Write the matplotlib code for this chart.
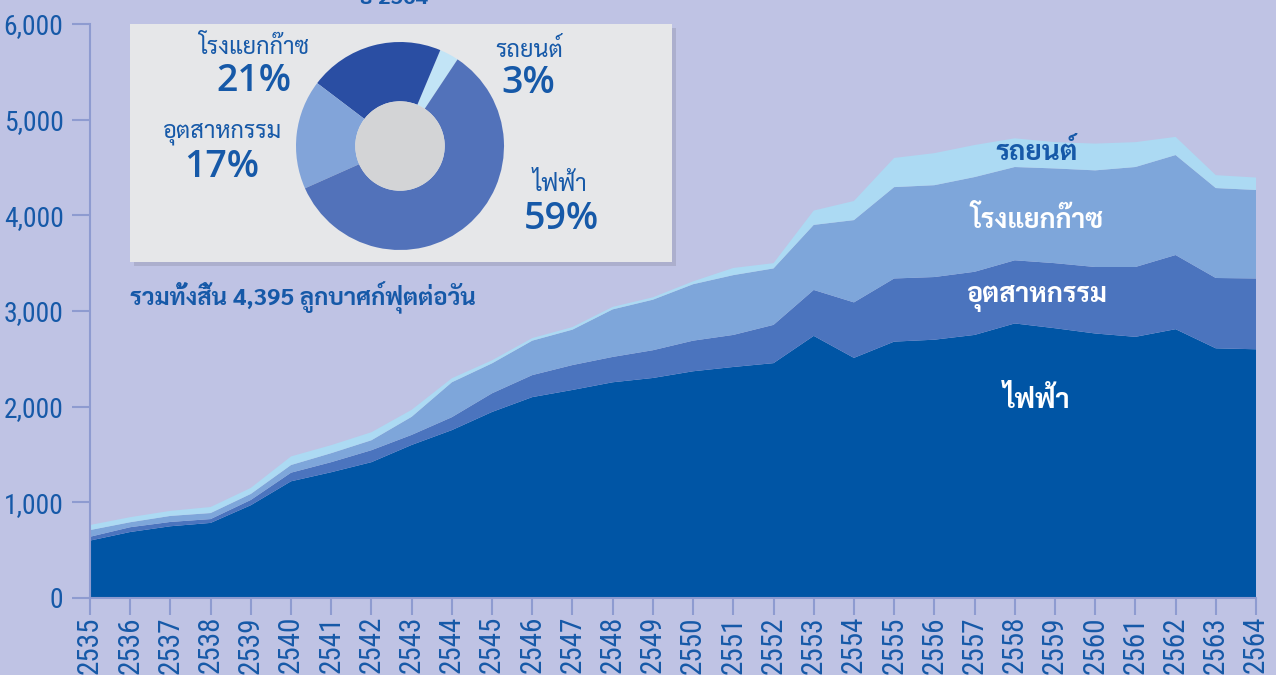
import matplotlib
matplotlib.use('Agg')
import matplotlib.pyplot as plt
from matplotlib import font_manager
from matplotlib.font_manager import FontProperties
from matplotlib.ft2font import FT2Font
from matplotlib.patches import Rectangle, Circle

# ---------------- data ----------------
years = list(range(2535, 2565))
electricity = [600, 690, 750, 785, 970, 1220, 1315, 1420, 1600, 1755,
               1945, 2100, 2175, 2255, 2300, 2370, 2415, 2455, 2740, 2510,
               2680, 2700, 2750, 2870, 2820, 2765, 2730, 2810, 2610, 2600]
industry = [40, 50, 45, 40, 55, 90, 105, 125, 105, 135,
            195, 230, 260, 265, 290, 320, 335, 400, 480, 580,
            660, 655, 660, 660, 680, 695, 730, 775, 735, 740]
gas_plant = [70, 52, 63, 63, 63, 80, 94, 104, 189, 365,
             313, 360, 370, 497, 528, 590, 625, 590, 680, 860,
             955, 960, 990, 975, 990, 1010, 1045, 1045, 940, 925]
vehicles = [53, 53, 53, 63, 63, 90, 84, 84, 73, 42,
            32, 27, 27, 26, 25, 30, 75, 55, 150, 200,
            305, 335, 335, 300, 275, 280, 260, 190, 135, 130]

series_names = ['ไฟฟ้า', 'อุตสาหกรรม', 'โรงแยกก๊าซ', 'รถยนต์']
pie_labels = ['รถยนต์', 'โรงแยกก๊าซ', 'อุตสาหกรรม', 'ไฟฟ้า']
pie_shares = [3, 21, 17, 59]
total_text = 'รวมทั้งสิ้น 4,395 ลูกบาศก์ฟุตต่อวัน'
title_text = 'ปี 2564'
yticks = [0, 1000, 2000, 3000, 4000, 5000, 6000]

# ---------------- fonts ----------------
def scan_fonts():
    thai = {}
    narrow = []
    for f in font_manager.fontManager.ttflist:
        w = f.weight if isinstance(f.weight, int) else 400
        try:
            cm = FT2Font(f.fname).get_charmap()
        except Exception:
            continue
        if 0x0E01 in cm and 0x0E32 in cm and f.style == 'normal':
            thai.setdefault(f.name, set()).add(w)
        st = str(f.stretch)
        if (('Narrow' in f.name or 'Condensed' in f.name or
             st in ('condensed', 'semi-condensed', 'extra-condensed',
                    'ultra-condensed'))
                and f.style == 'normal' and ord('0') in cm and 350 <= w <= 500):
            narrow.append(f)
    return thai, narrow

thai_map, narrow_list = scan_fonts()
pref = ['Noto Sans Thai', 'Noto Sans Thai UI', 'Sarabun', 'Noto Sans Thai Looped',
        'Loma', 'Garuda', 'Umpush', 'Waree', 'Laksaman', 'Kinnari', 'Norasi']
thai_name = None
for p in pref:
    if p in thai_map and any(w >= 600 for w in thai_map[p]):
        thai_name = p
        break
if thai_name is None:
    for n, ws in thai_map.items():
        if any(w >= 600 for w in ws):
            thai_name = n
            break
if thai_name is None and thai_map:
    thai_name = list(thai_map)[0]
THAI = [thai_name, 'DejaVu Sans'] if thai_name else ['DejaVu Sans']


def narrow_score(f):
    n = f.name
    st = str(f.stretch)
    s = 0
    if 'Liberation Sans Narrow' in n:
        s -= 100
    elif 'Roboto Condensed' in n:
        s -= 80
    elif 'Noto Sans' in n and ('ExtraCondensed' in n or st == 'extra-condensed'):
        s -= 90
    elif 'Noto Sans' in n and 'Condensed' in n:
        s -= 70
    if st in ('extra-condensed', 'ultra-condensed'):
        s -= 20
    elif st == 'condensed':
        s -= 10
    if 'Thai' in n or 'Mono' in n or 'Serif' in n:
        s += 50
    return s

if narrow_list:
    nf = sorted(narrow_list, key=narrow_score)[0]
    NARROW_FP = FontProperties(fname=nf.fname)
else:
    NARROW_FP = FontProperties(family='DejaVu Sans')

W, H = 1276, 675
BG = '#BFC3E4'
BLUE_TXT = '#1659A8'
SPINE = '#8E9BD0'
C_ELEC = '#0055A5'
C_IND = '#4B74BE'
C_GAS = '#7EA6DA'
C_CAR = '#ACDAF3'


def fx(x):
    return x / W


def fy(y):
    return 1 - y / H


fig = plt.figure(figsize=(W / 100, H / 100), dpi=100)
fig.patch.set_facecolor(BG)
renderer = fig.canvas.get_renderer()


def fit_size(text, target_w, max_size, fp):
    p = fp.copy()
    p.set_size(20)
    t = fig.text(0, 0, text, fontproperties=p)
    w = t.get_window_extent(renderer).width
    t.remove()
    return min(max_size, 20 * target_w / max(w, 1))

ysize = fit_size('6,000', 60, 22, NARROW_FP)
xsize = fit_size('2535', 58, 21, NARROW_FP)
yfp = NARROW_FP.copy()
yfp.set_size(ysize)
xfp = NARROW_FP.copy()
xfp.set_size(xsize)

# ---------------- main area chart ----------------
ax = fig.add_axes([fx(90), fy(598), (1256 - 90) / W, (598 - 24) / H])
ax.set_facecolor(BG)
ax.stackplot(years, electricity, industry, gas_plant, vehicles,
             colors=[C_ELEC, C_IND, C_GAS, C_CAR], linewidth=0, labels=series_names)
ax.set_xlim(years[0], years[-1])
ax.set_ylim(0, 6000)
for s in ['top', 'right']:
    ax.spines[s].set_visible(False)
for s in ['left', 'bottom']:
    ax.spines[s].set_color(SPINE)
    ax.spines[s].set_linewidth(1.5)
ax.set_xticks(years)
ax.set_xticklabels([str(y) for y in years], rotation=90, fontproperties=xfp,
                   color=BLUE_TXT)
ax.set_yticks(yticks)
ax.set_yticklabels([f'{v:,}' for v in yticks], fontproperties=yfp, color=BLUE_TXT)
ax.tick_params(axis='x', length=12, width=1.5, color=SPINE, pad=1)
ax.tick_params(axis='y', length=13, width=1.5, color=SPINE, pad=6)

# in-chart labels
fig.text(fx(1037), fy(153), 'รถยนต์', family=THAI, weight='bold', fontsize=20,
         color=BLUE_TXT, ha='center', va='center')
fig.text(fx(1037), fy(220), 'โรงแยกก๊าซ', family=THAI, weight='bold', fontsize=19.3,
         color='white', ha='center', va='center')
fig.text(fx(1037), fy(298), 'อุตสาหกรรม', family=THAI, weight='bold', fontsize=19.5,
         color='white', ha='center', va='center')
fig.text(fx(1037), fy(400), 'ไฟฟ้า', family=THAI, weight='bold', fontsize=20,
         color='white', ha='center', va='center')

# total text
fig.text(fx(130), fy(298), total_text, family=THAI, weight='bold', fontsize=17.3,
         color=BLUE_TXT, ha='left', va='center')

# cut-off title at the very top
fig.text(fx(393), fy(4), title_text, family=THAI, weight='bold', fontsize=16,
         color=BLUE_TXT, ha='center', va='baseline')

# ---------------- pie inset box ----------------
shadow = Rectangle((fx(134), fy(266)), (672 - 130) / W, (262 - 24) / H,
                   transform=fig.transFigure, facecolor='#9A9DB8', alpha=0.5,
                   edgecolor='none', zorder=5)
fig.patches.append(shadow)
box = Rectangle((fx(130), fy(262)), (672 - 130) / W, (262 - 24) / H,
                transform=fig.transFigure, facecolor='#E6E7E9',
                edgecolor='none', zorder=6)
fig.patches.append(box)

R = 104
pax = fig.add_axes([fx(400 - R), fy(146 + R), 2 * R / W, 2 * R / H], zorder=7)
pax.set_facecolor('none')
pax.pie(pie_shares, colors=['#C2E4F6', '#2A4EA3', '#82A4D9', '#5272BA'],
        startangle=56.4, counterclock=True, radius=1.0,
        wedgeprops=dict(width=0.57, linewidth=0))
pax.add_patch(Circle((0, 0), 0.43, facecolor='#D3D4D6', edgecolor='none'))
pax.set_xlim(-1, 1)
pax.set_ylim(-1, 1)
pax.set_aspect('equal')
pax.axis('off')

pie_pos = {
    'โรงแยกก๊าซ': ((254, 47), (254, 81)),
    'อุตสาหกรรม': ((222, 134), (222, 167)),
    'รถยนต์': ((529, 50), (528, 83)),
    'ไฟฟ้า': ((560, 184), (561, 219)),
}
for lab, share in zip(pie_labels, pie_shares):
    (lx, ly), (px, py) = pie_pos[lab]
    t1 = fig.text(fx(lx), fy(ly), lab, family=THAI, fontsize=17, color=BLUE_TXT,
                  ha='center', va='center')
    t2 = fig.text(fx(px), fy(py), f'{share}%', family=['Open Sans', 'DejaVu Sans'],
                  weight='semibold', fontsize=27, color=BLUE_TXT,
                  ha='center', va='center')
    t1.set_zorder(8)
    t2.set_zorder(8)

fig.savefig('out.png', dpi=100, facecolor=BG)
